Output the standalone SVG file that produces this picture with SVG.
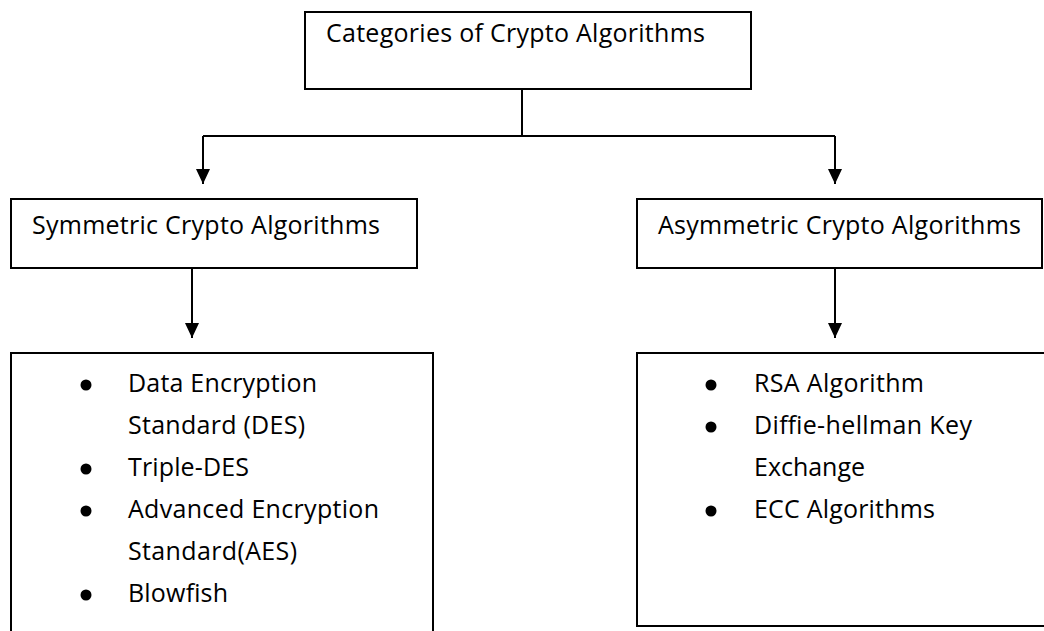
<svg xmlns="http://www.w3.org/2000/svg" width="1044" height="631" viewBox="0 0 1044 631">
<style>
.box{fill:#fff;stroke:#000;stroke-width:2}
.t{font-family:"Open Sans","Liberation Sans",sans-serif;font-size:25px;fill:#000}
.c{fill:none;stroke:#000;stroke-width:2}
.b{fill:#000}
</style>
<defs>
<marker id="ah" markerUnits="userSpaceOnUse" markerWidth="14" markerHeight="16" refX="7" refY="15" orient="0" viewBox="0 0 14 16">
<path d="M0,0 L14,0 L7,15 Z" fill="#000"/>
</marker>
</defs>
<rect width="1044" height="631" fill="#fff"/>
<g id="connectors">
<path class="c" d="M522,89 V136"/>
<path class="c" d="M203,136 H835"/>
<path class="c" d="M203,136 V184" marker-end="url(#ah)"/>
<path class="c" d="M835,136 V184" marker-end="url(#ah)"/>
<path class="c" d="M192,268 V338" marker-end="url(#ah)"/>
<path class="c" d="M835,268 V338" marker-end="url(#ah)"/>
</g>
<g id="n-root">
<rect class="box" x="305" y="12" width="446" height="77"/>
<text class="t" x="326" y="42" textLength="379">Categories of Crypto Algorithms</text>
</g>
<g id="n-symmetric">
<rect class="box" x="11" y="199" width="406" height="69"/>
<text class="t" x="32" y="234" textLength="348">Symmetric Crypto Algorithms</text>
</g>
<g id="n-asymmetric">
<rect class="box" x="637" y="199" width="405" height="69"/>
<text class="t" x="658" y="234" textLength="363">Asymmetric Crypto Algorithms</text>
</g>
<g id="n-symmetric-list">
<rect class="box" x="11" y="353" width="422" height="300"/>
<circle class="b" cx="86" cy="385" r="5.5"/>
<circle class="b" cx="86" cy="469" r="5.5"/>
<circle class="b" cx="86" cy="511" r="5.5"/>
<circle class="b" cx="86" cy="595" r="5.5"/>
<text class="t" x="128" y="392" textLength="189">Data Encryption</text>
<text class="t" x="128" y="434" textLength="177">Standard (DES)</text>
<text class="t" x="128" y="476" textLength="121">Triple-DES</text>
<text class="t" x="128" y="518" textLength="251">Advanced Encryption</text>
<text class="t" x="128" y="560" textLength="169">Standard(AES)</text>
<text class="t" x="128" y="602" textLength="100">Blowfish</text>
</g>
<g id="n-asymmetric-list">
<rect class="box" x="637" y="353" width="420" height="273"/>
<circle class="b" cx="711" cy="385" r="5.5"/>
<circle class="b" cx="711" cy="427" r="5.5"/>
<circle class="b" cx="711" cy="511" r="5.5"/>
<text class="t" x="754" y="392" textLength="170">RSA Algorithm</text>
<text class="t" x="754" y="434" textLength="218">Diffie-hellman Key</text>
<text class="t" x="754" y="476" textLength="111">Exchange</text>
<text class="t" x="754" y="518" textLength="181">ECC Algorithms</text>
</g>
</svg>
